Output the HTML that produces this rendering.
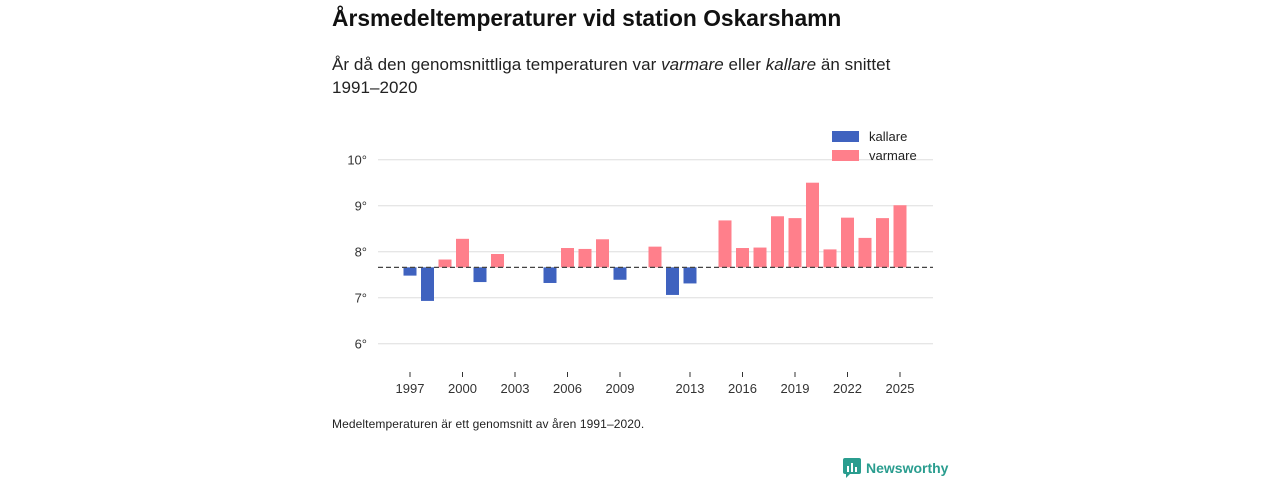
<!DOCTYPE html>
<html><head><meta charset="utf-8"><style>
body{margin:0;width:1280px;height:480px;background:#fff;font-family:"Liberation Sans","DejaVu Sans",sans-serif;color:#111;position:relative;overflow:hidden}
.t{position:absolute;left:332px;top:5px;font-size:22.8px;font-weight:bold;margin:0}
.s{position:absolute;left:332px;top:53px;font-size:17px;line-height:23px;width:600px;color:#222;letter-spacing:0.05px}
.f{position:absolute;left:332px;top:417px;font-size:12px;color:#222;letter-spacing:0.1px}
.logo{position:absolute;left:843px;top:458px;font-size:14px;font-weight:bold;color:#2a9d8f;display:flex;align-items:center;gap:5px}
</style></head><body>
<h1 class="t">Årsmedeltemperaturer vid station Oskarshamn</h1>
<div class="s">År då den genomsnittliga temperaturen var <i>varmare</i> eller <i>kallare</i> än snittet 1991–2020</div>
<svg id="c" width="1280" height="480" style="position:absolute;left:0;top:0"></svg>
<div class="f">Medeltemperaturen är ett genomsnitt av åren 1991–2020.</div>
<div class="logo"><svg width="18" height="20" viewBox="0 0 18 20"><rect x="0" y="0" width="18" height="16" rx="2" fill="#2a9d8f"/><path d="M3 16 L3 20 L7 16Z" fill="#2a9d8f"/><rect x="4" y="8" width="2" height="6" fill="#fff"/><rect x="8" y="5" width="2" height="9" fill="#fff"/><rect x="12" y="9" width="2" height="5" fill="#fff"/></svg><span>Newsworthy</span></div>
<script>
const years=[1997,1998,1999,2000,2001,2002,2003,2004,2005,2006,2007,2008,2009,2010,2011,2012,2013,2014,2015,2016,2017,2018,2019,2020,2021,2022,2023,2024,2025];
const temps=[7.48,6.93,7.83,8.28,7.34,7.95,null,null,7.32,8.08,8.06,8.27,7.39,null,8.11,7.06,7.31,null,8.68,8.08,8.09,8.77,8.73,9.5,8.05,8.74,8.30,8.73,9.01];
const baseline=7.66;
const yTicks=[6,7,8,9,10];
const xTicks=[1997,2000,2003,2006,2009,2013,2016,2019,2022,2025];
const NS="http://www.w3.org/2000/svg",svg=document.getElementById('c');
const x=yr=>410+(yr-1997)*17.5, y=v=>343.7-(v-6)*46;
function mk(t,a,txt){const e=document.createElementNS(NS,t);for(const k in a)e.setAttribute(k,a[k]);if(txt!=null)e.textContent=txt;svg.appendChild(e);return e;}
yTicks.forEach(v=>{
 const g=mk('line',{x1:378,x2:933,y1:y(v),y2:y(v),stroke:'#ddd','stroke-width':1});
 
 
 const l=mk('text',{x:367,y:y(v)+5,'text-anchor':'end','font-size':13,fill:'#333','font-family':'Liberation Sans, sans-serif'},v+'°');
 
 
});
xTicks.forEach(yr=>{
 const t=mk('line',{x1:x(yr),x2:x(yr),y1:372,y2:377,stroke:'#333'});
 
 
 const l=mk('text',{x:x(yr),y:393,'text-anchor':'middle','font-size':13,fill:'#333','font-family':'Liberation Sans, sans-serif'},yr);
 
 
});
years.forEach((yr,i)=>{
 const v=temps[i]; if(v==null) return;
 const y0=y(baseline),y1=y(v);
 const b=mk('rect',{x:x(yr)-6.5,width:13,y:Math.min(y0,y1),height:Math.abs(y1-y0),fill:v<baseline?'#3f62bf':'#ff7f8b'});
 
 
});
const d=mk('line',{x1:378,x2:933,y1:y(baseline),y2:y(baseline),stroke:'#444','stroke-width':1.3,'stroke-dasharray':'5,3'});


[['kallare','#3f62bf',131],['varmare','#ff7f8b',150]].forEach(([n,c,yy])=>{
 const r=mk('rect',{x:832,y:yy,width:27,height:11,fill:c});
 
 
 const t=mk('text',{x:869,y:yy+10,'font-size':13,fill:'#222','font-family':'Liberation Sans, sans-serif'},n);
 
 
});
</script>
</body></html>
